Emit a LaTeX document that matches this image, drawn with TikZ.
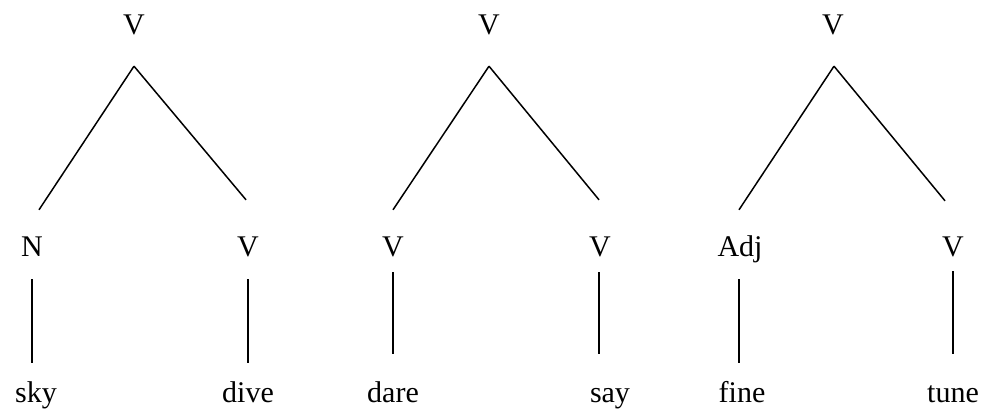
\documentclass[tikz,border=0pt]{standalone}
\usepackage{fontspec}
\setmainfont{Liberation Serif}
\usepackage{tikz}
\usetikzlibrary{positioning}

\tikzset{
    lbl/.style={inner sep=0pt, text height=20pt, text depth=6pt, anchor=base,
        font=\fontsize{30}{36}\selectfont},
    branch/.style={line width=1.5pt},
}

\begin{document}
\begin{tikzpicture}[x=1pt, y=-1pt]
    \useasboundingbox (0,0) rectangle (986,411);

    % sky-dive
    \node[lbl] (t1) at (134,35) {V};
    \node[lbl] (n1) at (32,257) {N};
    \node[lbl] (v1) at (248,257) {V};
    \node[lbl] (sky) at (36,403) {sky};
    \node[lbl] (dive) at (248,403) {dive};
    \draw[branch] ([yshift=-25pt]t1.south) -- ([xshift=7pt, yshift=27pt]n1.north);
    \draw[branch] ([yshift=-25pt]t1.south) -- ([xshift=-2pt, yshift=37pt]v1.north);
    \draw[branch, shorten <=16pt, shorten >=20pt] (n1.south) -- (n1.south |- sky.north);
    \draw[branch, shorten <=16pt, shorten >=20pt] (v1.south) -- (v1.south |- dive.north);

    % dare-say
    \node[lbl] (t2) at (489,35) {V};
    \node[lbl] (v2a) at (393,257) {V};
    \node[lbl] (v2b) at (600,257) {V};
    \node[lbl] (dare) at (393,403) {dare};
    \node[lbl] (say) at (610,403) {say};
    \draw[branch] ([yshift=-25pt]t2.south) -- ([yshift=27pt]v2a.north);
    \draw[branch] ([yshift=-25pt]t2.south) -- ([xshift=-1pt, yshift=37pt]v2b.north);
    \draw[branch, shorten <=9pt, shorten >=29pt] (v2a.south) -- (v2a.south |- dare.north);
    \draw[branch, shorten <=9pt, shorten >=29pt] ([xshift=-1pt]v2b.south) -- ([xshift=-1pt]v2b.south |- say.north);

    % fine-tune
    \node[lbl] (t3) at (833,35) {V};
    \node[lbl] (adj) at (740,257) {Adj};
    \node[lbl] (v3) at (953,257) {V};
    \node[lbl] (fine) at (742,403) {fine};
    \node[lbl] (tune) at (953,403) {tune};
    \draw[branch] ([xshift=1pt, yshift=-25pt]t3.south) -- ([xshift=-1pt, yshift=27pt]adj.north);
    \draw[branch] ([xshift=1pt, yshift=-25pt]t3.south) -- ([xshift=-8pt, yshift=36pt]v3.north);
    \draw[branch, shorten <=16pt, shorten >=20pt] ([xshift=-1pt]adj.south) -- ([xshift=-1pt]adj.south |- fine.north);
    \draw[branch, shorten <=8pt, shorten >=29pt] (v3.south) -- (v3.south |- tune.north);
\end{tikzpicture}
\end{document}
